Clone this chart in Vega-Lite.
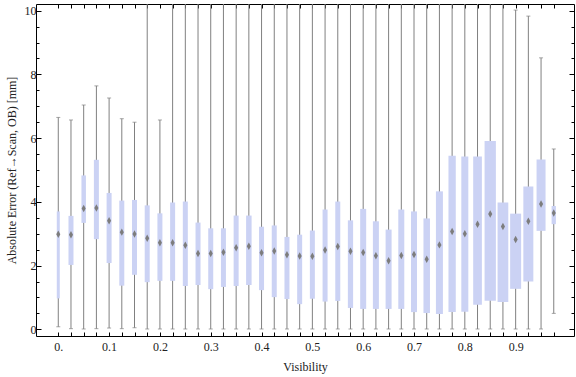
{
  "$schema": "https://vega.github.io/schema/vega-lite/v6.json",
  "width": 538,
  "height": 332,
  "autosize": "none",
  "padding": {"left": 36, "top": 4, "right": 2, "bottom": 41},
  "background": "white",
  "config": {
    "view": {"stroke": "black", "strokeWidth": 1},
    "font": "Liberation Serif",
    "axis": {
      "grid": false,
      "domain": false,
      "tickColor": "black",
      "tickWidth": 1,
      "labelFont": "Liberation Serif",
      "labelFontSize": 12,
      "labelColor": "#222222",
      "titleFont": "Liberation Serif",
      "titleFontSize": 12,
      "titleFontWeight": "normal",
      "titleColor": "#222222",
      "labelOverlap": false,
      "labelFlush": false
    }
  },
  "data": {
    "values": [
      {"v": 0.000, "lo": 0.08, "q1": 0.97, "med": 2.98, "q3": 3.70, "hi": 6.65, "n": 60},
      {"v": 0.025, "lo": 0.02, "q1": 2.02, "med": 2.97, "q3": 3.56, "hi": 6.57, "n": 100},
      {"v": 0.050, "lo": 0.01, "q1": 3.34, "med": 3.79, "q3": 4.83, "hi": 7.04, "n": 90},
      {"v": 0.075, "lo": 0.02, "q1": 2.83, "med": 3.81, "q3": 5.32, "hi": 7.64, "n": 100},
      {"v": 0.100, "lo": 0.04, "q1": 2.08, "med": 3.41, "q3": 4.28, "hi": 7.26, "n": 100},
      {"v": 0.125, "lo": 0.02, "q1": 1.37, "med": 3.05, "q3": 4.04, "hi": 6.61, "n": 100},
      {"v": 0.150, "lo": 0.05, "q1": 1.71, "med": 2.99, "q3": 4.06, "hi": 6.50, "n": 100},
      {"v": 0.175, "lo": 0.01, "q1": 1.48, "med": 2.86, "q3": 3.89, "hi": 20, "n": 100},
      {"v": 0.200, "lo": 0.01, "q1": 1.52, "med": 2.72, "q3": 3.64, "hi": 6.57, "n": 100},
      {"v": 0.225, "lo": 0.01, "q1": 1.52, "med": 2.72, "q3": 3.98, "hi": 20, "n": 100},
      {"v": 0.250, "lo": 0.01, "q1": 1.36, "med": 2.64, "q3": 4.01, "hi": 20, "n": 100},
      {"v": 0.275, "lo": 0.01, "q1": 1.39, "med": 2.38, "q3": 3.35, "hi": 20, "n": 100},
      {"v": 0.300, "lo": 0.01, "q1": 1.26, "med": 2.38, "q3": 3.17, "hi": 20, "n": 100},
      {"v": 0.325, "lo": 0.01, "q1": 1.33, "med": 2.42, "q3": 3.17, "hi": 20, "n": 100},
      {"v": 0.350, "lo": 0.01, "q1": 1.36, "med": 2.56, "q3": 3.57, "hi": 20, "n": 100},
      {"v": 0.375, "lo": 0.01, "q1": 1.39, "med": 2.61, "q3": 3.57, "hi": 20, "n": 110},
      {"v": 0.400, "lo": 0.01, "q1": 1.23, "med": 2.40, "q3": 3.22, "hi": 20, "n": 100},
      {"v": 0.425, "lo": 0.01, "q1": 1.01, "med": 2.46, "q3": 3.26, "hi": 20, "n": 100},
      {"v": 0.450, "lo": 0.01, "q1": 0.95, "med": 2.34, "q3": 2.90, "hi": 20, "n": 100},
      {"v": 0.475, "lo": 0.01, "q1": 0.79, "med": 2.30, "q3": 2.97, "hi": 20, "n": 100},
      {"v": 0.500, "lo": 0.01, "q1": 0.96, "med": 2.29, "q3": 3.10, "hi": 20, "n": 100},
      {"v": 0.525, "lo": 0.01, "q1": 0.87, "med": 2.49, "q3": 3.76, "hi": 20, "n": 100},
      {"v": 0.550, "lo": 0.01, "q1": 0.89, "med": 2.60, "q3": 4.01, "hi": 20, "n": 100},
      {"v": 0.575, "lo": 0.01, "q1": 0.67, "med": 2.45, "q3": 3.42, "hi": 20, "n": 105},
      {"v": 0.600, "lo": 0.01, "q1": 0.64, "med": 2.41, "q3": 3.78, "hi": 20, "n": 120},
      {"v": 0.625, "lo": 0.01, "q1": 0.64, "med": 2.31, "q3": 3.39, "hi": 20, "n": 120},
      {"v": 0.650, "lo": 0.01, "q1": 0.64, "med": 2.15, "q3": 3.13, "hi": 20, "n": 120},
      {"v": 0.675, "lo": 0.01, "q1": 0.64, "med": 2.32, "q3": 3.76, "hi": 20, "n": 120},
      {"v": 0.700, "lo": 0.01, "q1": 0.54, "med": 2.35, "q3": 3.70, "hi": 20, "n": 120},
      {"v": 0.725, "lo": 0.01, "q1": 0.51, "med": 2.20, "q3": 3.48, "hi": 20, "n": 130},
      {"v": 0.750, "lo": 0.01, "q1": 0.48, "med": 2.65, "q3": 4.33, "hi": 20, "n": 140},
      {"v": 0.775, "lo": 0.01, "q1": 0.54, "med": 3.07, "q3": 5.45, "hi": 20, "n": 146},
      {"v": 0.800, "lo": 0.01, "q1": 0.55, "med": 3.00, "q3": 5.42, "hi": 20, "n": 140},
      {"v": 0.825, "lo": 0.01, "q1": 0.77, "med": 3.30, "q3": 5.42, "hi": 20, "n": 174},
      {"v": 0.850, "lo": 0.01, "q1": 0.90, "med": 3.62, "q3": 5.91, "hi": 20, "n": 226},
      {"v": 0.875, "lo": 0.01, "q1": 0.86, "med": 3.23, "q3": 3.98, "hi": 20, "n": 214},
      {"v": 0.900, "lo": 0.01, "q1": 1.27, "med": 2.82, "q3": 3.63, "hi": 10.02, "n": 220},
      {"v": 0.925, "lo": 0.01, "q1": 1.50, "med": 3.39, "q3": 4.48, "hi": 9.83, "n": 200},
      {"v": 0.950, "lo": 0.01, "q1": 3.09, "med": 3.93, "q3": 5.33, "hi": 8.52, "n": 180},
      {"v": 0.975, "lo": 0.50, "q1": 3.30, "med": 3.65, "q3": 3.87, "hi": 5.66, "n": 86}
    ]
  },
  "layer": [
    {
      "mark": {"type": "rule", "color": "#808080", "strokeWidth": 1, "clip": true},
      "encoding": {
        "x": {
          "field": "v", "type": "quantitative",
          "scale": {"domain": [-0.034, 1.005], "nice": false, "zero": false},
          "axis": {
            "orient": "bottom",
            "title": "Visibility",
            "values": [0, 0.025, 0.05, 0.075, 0.1, 0.125, 0.15, 0.175, 0.2, 0.225, 0.25, 0.275, 0.3, 0.325, 0.35, 0.375, 0.4, 0.425, 0.45, 0.475, 0.5, 0.525, 0.55, 0.575, 0.6, 0.625, 0.65, 0.675, 0.7, 0.725, 0.75, 0.775, 0.8, 0.825, 0.85, 0.875, 0.9, 0.925, 0.95, 0.975],
            "labelExpr": "datum.value < 0.001 ? '0.' : (abs(datum.value * 10 - round(datum.value * 10)) < 0.001 ? format(datum.value, '.1f') : '')",
            "tickSize": -4,
            "labelPadding": 9,
            "titlePadding": 9
          }
        },
        "y": {
          "field": "lo", "type": "quantitative",
          "scale": {"domain": [-0.21, 10.21], "nice": false, "zero": false},
          "axis": {
            "orient": "left",
            "title": "Absolute Error (Ref\u2192Scan, OB) [mm]",
            "values": [0, 0.5, 1, 1.5, 2, 2.5, 3, 3.5, 4, 4.5, 5, 5.5, 6, 6.5, 7, 7.5, 8, 8.5, 9, 9.5, 10],
            "labelExpr": "datum.value % 2 == 0 ? format(datum.value, 'd') : ''",
            "tickSize": {"condition": {"test": "datum.value % 2 == 0", "value": -5}, "value": -3},
            "labelPadding": 5,
            "titlePadding": 6
          }
        },
        "y2": {"field": "hi"}
      }
    },
    {
      "mark": {"type": "tick", "orient": "horizontal", "color": "#808080", "size": 4, "thickness": 1, "clip": true},
      "encoding": {
        "x": {"field": "v", "type": "quantitative", "scale": {"domain": [-0.034, 1.005], "nice": false, "zero": false}, "axis": null},
        "y": {"field": "hi", "type": "quantitative", "scale": {"domain": [-0.21, 10.21], "nice": false, "zero": false}, "axis": null}
      }
    },
    {
      "mark": {"type": "tick", "orient": "horizontal", "color": "#808080", "size": 4, "thickness": 1, "clip": true},
      "encoding": {
        "x": {"field": "v", "type": "quantitative", "scale": {"domain": [-0.034, 1.005], "nice": false, "zero": false}, "axis": null},
        "y": {"field": "lo", "type": "quantitative", "scale": {"domain": [-0.21, 10.21], "nice": false, "zero": false}, "axis": null}
      }
    },
    {
      "mark": {"type": "bar", "color": "#cbd2f4", "clip": true},
      "encoding": {
        "x": {"field": "v", "type": "quantitative", "scale": {"domain": [-0.034, 1.005], "nice": false, "zero": false}, "axis": null},
        "y": {"field": "q1", "type": "quantitative", "scale": {"domain": [-0.21, 10.21], "nice": false, "zero": false}, "axis": null},
        "y2": {"field": "q3"},
        "size": {"field": "n", "type": "quantitative", "scale": {"domain": [0, 240], "range": [0, 12]}, "legend": null}
      }
    },
    {
      "mark": {"type": "point", "shape": "M0,-1L0.55,0L0,1L-0.55,0Z", "filled": true, "color": "#7d7d7d", "opacity": 1, "size": 56},
      "encoding": {
        "x": {
          "field": "v", "type": "quantitative",
          "scale": {"domain": [-0.034, 1.005], "nice": false, "zero": false},
          "axis": {
            "orient": "top",
            "title": null,
            "labels": false,
            "values": [0, 0.025, 0.05, 0.075, 0.1, 0.125, 0.15, 0.175, 0.2, 0.225, 0.25, 0.275, 0.3, 0.325, 0.35, 0.375, 0.4, 0.425, 0.45, 0.475, 0.5, 0.525, 0.55, 0.575, 0.6, 0.625, 0.65, 0.675, 0.7, 0.725, 0.75, 0.775, 0.8, 0.825, 0.85, 0.875, 0.9, 0.925, 0.95, 0.975],
            "tickSize": -4
          }
        },
        "y": {
          "field": "med", "type": "quantitative",
          "scale": {"domain": [-0.21, 10.21], "nice": false, "zero": false},
          "axis": {
            "orient": "right",
            "title": null,
            "labels": false,
            "values": [0, 0.5, 1, 1.5, 2, 2.5, 3, 3.5, 4, 4.5, 5, 5.5, 6, 6.5, 7, 7.5, 8, 8.5, 9, 9.5, 10],
            "tickSize": {"condition": {"test": "datum.value % 2 == 0", "value": -5}, "value": -3}
          }
        }
      }
    }
  ],
  "resolve": {"axis": {"x": "independent", "y": "independent"}}
}
